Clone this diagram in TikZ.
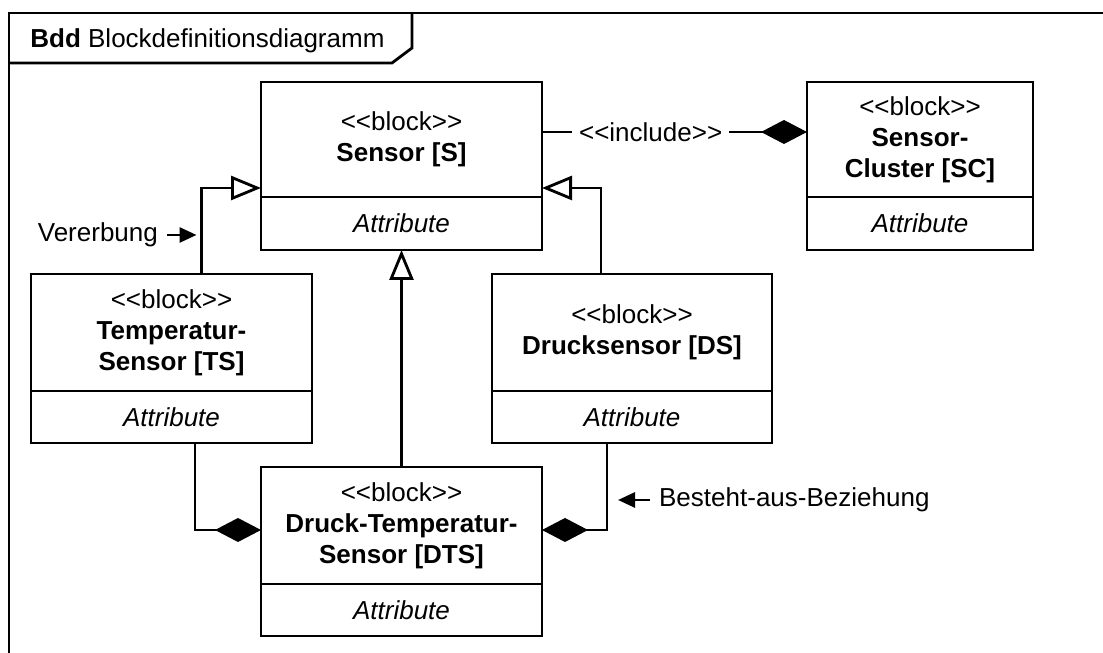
\documentclass[tikz,border=0pt]{standalone}
\usepackage{fontspec}
\setmainfont{Liberation Sans}
\usetikzlibrary{arrows.meta}

\newcommand{\bddfont}{\fontsize{14.8}{17.6}\selectfont}

\tikzset{
    block/.style={draw, line width=1.6pt, minimum width=5.62cm, minimum height=2.34cm,
        align=center, inner sep=0pt, outer sep=0pt},
    attr/.style={block, minimum height=1.04cm, anchor=north, font=\bddfont\itshape},
    link/.style={line width=1.6pt},
    inherit/.style={link, -{Triangle[open, length=0.6cm, width=0.48cm]}},
    part/.style={link, -{Diamond[length=0.92cm, width=0.48cm]}},
    pointer/.style={link, -{Triangle[length=0.34cm, width=0.3cm]}, shorten >=0.1cm}
}

\begin{document}
\begin{tikzpicture}[font=\bddfont]

    \useasboundingbox (0,0) rectangle (22.06,13.06);
    %\draw (0,0) rectangle (22.06,13.06);

    \pgfmathsetmacro{\fx}{0.18}
    \pgfmathsetmacro{\fy}{12.8}

    % frame
    \draw[link] (\fx,0) -- (\fx,\fy) -- (22.06,\fy);
    \draw[link] (\fx,11.8) -- (7.84,11.8) -- (8.24,12.1) -- (8.24,\fy);
    \node[anchor=base west, inner sep=0pt] (title) at (0.6,12.1)
        {\textbf{Bdd} Blockdefinitionsdiagramm};

    % blocks
    \node[block, minimum height=2.30cm] (S) at (8.03,10.27)
        {<{}<block>{}>\\\textbf{Sensor [S]}};
    \node[attr, minimum height=1.06cm] (Sa) at (S.south) {Attribute};

    \node[block, minimum width=4.52cm, minimum height=2.30cm] (SC) at (18.40,10.27)
        {<{}<block>{}>\\\textbf{Sensor-}\\\textbf{Cluster [SC]}};
    \node[attr, minimum width=4.52cm, minimum height=1.06cm] (SCa) at (SC.south) {Attribute};

    \node[block] (TS) at (3.43,6.41)
        {<{}<block>{}>\\\textbf{Temperatur-}\\\textbf{Sensor [TS]}};
    \node[attr] (TSa) at (TS.south) {Attribute};

    \node[block, minimum width=5.60cm] (DS) at (12.64,6.41)
        {<{}<block>{}>\\\textbf{Drucksensor [DS]}};
    \node[attr, minimum width=5.60cm] (DSa) at (DS.south) {Attribute};

    \node[block] (DTS) at (8.03,2.55)
        {<{}<block>{}>\\\textbf{Druck-Temperatur-}\\\textbf{Sensor [DTS]}};
    \node[attr] (DTSa) at (DTS.south) {Attribute};

    \coordinate (inhTS) at ([xshift=0.6cm]TS.north);
    \coordinate (inhDS) at ([xshift=-0.62cm]DS.north);
    \coordinate (aggTS) at ([xshift=0.47cm]TSa.south);
    \coordinate (aggDS) at ([xshift=-0.5cm]DSa.south);

    % generalisation
    \draw[inherit] (inhTS) |- ([yshift=0.18cm]S.south west);
    \draw[inherit] (inhDS) |- ([yshift=0.18cm]S.south east);
    \draw[inherit] (DTS.north) -- (Sa.south);

    % composition
    \draw[part] (aggTS) |- ([yshift=-0.09cm]DTS.west);
    \draw[part] (aggDS) |- ([yshift=-0.09cm]DTS.east);
    \draw[part] ([yshift=0.15cm]S.east) --
        node[pos=0.41, fill=white, inner xsep=4pt, inner ysep=1pt] (incl) {<{}<include>{}>}
        ([yshift=0.15cm]SC.west);

    % notes
    \node[anchor=east, inner xsep=5pt, inner ysep=0pt] (ver) at (3.34,8.36) {Vererbung};
    \draw[pointer] (ver) -- (ver -| inhTS);

    \node[anchor=west, inner xsep=5pt, inner ysep=0pt] (bez) at (13.0,3.06) {Besteht-aus-Beziehung};
    \draw[pointer, shorten >=0.22cm] (bez) -- (bez -| aggDS);

\end{tikzpicture}
\end{document}
